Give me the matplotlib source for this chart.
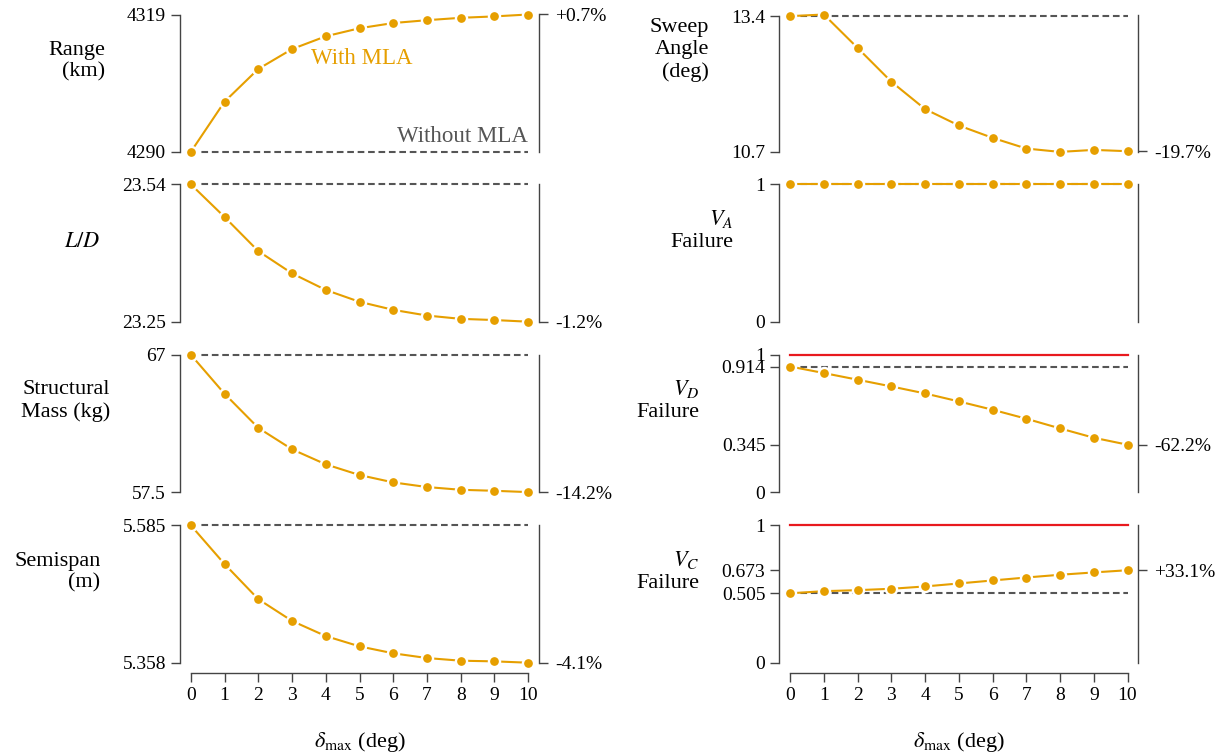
import matplotlib
matplotlib.use("Agg")
import matplotlib.pyplot as plt

plt.rcParams['font.family'] = ['Liberation Serif', 'DejaVu Serif']
plt.rcParams['mathtext.fontset'] = 'stix'

# ---------------- data ----------------
delta_max = [0, 1, 2, 3, 4, 5, 6, 7, 8, 9, 10]

range_km = [4290.0, 4300.6, 4307.5, 4311.7, 4314.4, 4316.1, 4317.2, 4317.8, 4318.3, 4318.6, 4319.0]
lift_drag = [23.54, 23.471, 23.399, 23.352, 23.317, 23.292, 23.275, 23.263, 23.256, 23.2535, 23.25]
struct_mass = [67.0, 64.30, 61.94, 60.46, 59.42, 58.68, 58.17, 57.85, 57.66, 57.59, 57.5]
semispan = [5.585, 5.521, 5.463, 5.427, 5.402, 5.385, 5.3735, 5.3657, 5.3613, 5.3602, 5.358]
sweep = [13.4, 13.433, 12.767, 12.093, 11.547, 11.22, 10.973, 10.76, 10.693, 10.733, 10.707]
va_failure = [1, 1, 1, 1, 1, 1, 1, 1, 1, 1, 1]
vd_failure = [0.914, 0.8665, 0.818, 0.769, 0.718, 0.660, 0.5995, 0.534, 0.4636, 0.3956, 0.345]
vc_failure = [0.505, 0.5207, 0.528, 0.538, 0.555, 0.5766, 0.5985, 0.620, 0.640, 0.657, 0.673]

baselines = [4290, 23.54, 67, 5.585, 13.4, 1, 0.914, 0.505]
limits = [None, None, None, None, None, None, 1, 1]

ylabels = ["Range\n(km)", "$L/D$", "Structural\nMass (kg)", "Semispan\n(m)",
           "Sweep\nAngle\n(deg)", "$V_A$\nFailure", "$V_D$\nFailure", "$V_C$\nFailure"]

ytick_values = [[4290, 4319], [23.25, 23.54], [57.5, 67], [5.358, 5.585],
                [10.7, 13.4], [0, 1], [0, 0.345, 0.914, 1], [0, 0.505, 0.673, 1]]
ytick_labels = [["4290", "4319"], ["23.25", "23.54"], ["57.5", "67"], ["5.358", "5.585"],
                ["10.7", "13.4"], ["0", "1"], ["0", "0.345", "0.914", "1"],
                ["0", "0.505", "0.673", "1"]]
pct_labels = ["+0.7%", "-1.2%", "-14.2%", "-4.1%", "-19.7%", None, "-62.2%", "+33.1%"]

xtick_labels = ["0", "1", "2", "3", "4", "5", "6", "7", "8", "9", "10"]
xlabel = r"$\delta_{\max}$ (deg)"

series = [range_km, lift_drag, struct_mass, semispan, sweep, va_failure, vd_failure, vc_failure]

# ---------------- style ----------------
ORANGE = "#E69F00"
GRAY = "#555555"
SPINE = "#444444"
RED = "#E8191E"
W, H = 1225, 755
fig = plt.figure(figsize=(12.25, 7.55), dpi=100)

col_left = [180 / W, 779.3 / W]
ax_w = 359 / W
row_top = [14.5, 184.3, 354.7, 525.3]
ax_h = 137.4

for i, ys in enumerate(series):
    col, row = divmod(i, 4)
    bottom = 1 - (row_top[row] + ax_h) / H
    ax = fig.add_axes([col_left[col], bottom, ax_w, ax_h / H])
    allv = list(ys) + list(ytick_values[i]) + [baselines[i]]
    if limits[i] is not None:
        allv.append(limits[i])
    lo, hi = min(allv), max(allv)
    ax.set_xlim(-0.32, 10.32)
    ax.set_ylim(lo, hi)

    ax.plot([0, 10], [baselines[i]] * 2, color=GRAY, lw=1.5,
            linestyle=(0, (3.2, 1.8)), zorder=2, clip_on=False)
    if limits[i] is not None:
        ax.plot([0, 10], [limits[i]] * 2, color=RED, lw=1.6, zorder=2, clip_on=False)
    ax.plot(delta_max, ys, color=ORANGE, lw=1.5, marker='o', ms=8,
            mfc=ORANGE, mec='white', mew=1.7, zorder=3, clip_on=False)

    for s in ['top', 'right']:
        ax.spines[s].set_visible(False)
    ax.spines['left'].set_color(SPINE)
    ax.spines['left'].set_linewidth(1.0)
    tv = ytick_values[i]
    ax.spines['left'].set_bounds(min(tv), max(tv))
    ax.set_yticks(tv)
    ax.set_yticklabels(ytick_labels[i])
    ax.tick_params(axis='y', direction='out', length=6.5, width=1.0, color=SPINE,
                   labelsize=14, labelcolor='black', pad=3.5)

    if row == 3:
        ax.spines['bottom'].set_position(('outward', 7.2))
        ax.spines['bottom'].set_bounds(0, 10)
        ax.spines['bottom'].set_color(SPINE)
        ax.spines['bottom'].set_linewidth(1.0)
        ax.set_xticks(delta_max)
        ax.set_xticklabels(xtick_labels)
        ax.tick_params(axis='x', direction='out', length=6.5, width=1.0, color=SPINE,
                       labelsize=14, labelcolor='black', pad=3.5)
        ax.set_xlabel(xlabel, fontsize=16, labelpad=19)
    else:
        ax.spines['bottom'].set_visible(False)
        ax.set_xticks([])

    ax.set_ylabel(ylabels[i], fontsize=16, rotation=0, ha='right', va='bottom',
                  y=0.51, labelpad=16)

    # right spine with percent change
    ax2 = ax.twinx()
    ax2.set_ylim(lo, hi)
    for s in ['top', 'left', 'bottom']:
        ax2.spines[s].set_visible(False)
    ax2.spines['right'].set_color(SPINE)
    ax2.spines['right'].set_linewidth(1.0)
    if pct_labels[i] is not None:
        ax2.set_yticks([ys[-1]])
        ax2.set_yticklabels([pct_labels[i]])
    else:
        ax2.set_yticks([])
    ax2.tick_params(axis='y', direction='out', length=6.5, width=1.0, color=SPINE,
                    labelsize=14, labelcolor='black', pad=5)

    if i == 0:
        ax.text(5.07, 4309.8, "With MLA", color=ORANGE, fontsize=16.5,
                ha='center', va='center')
        ax.text(10, 4293.3, "Without MLA", color=GRAY, fontsize=16.5,
                ha='right', va='center')

fig.savefig("out.png", dpi=100)
